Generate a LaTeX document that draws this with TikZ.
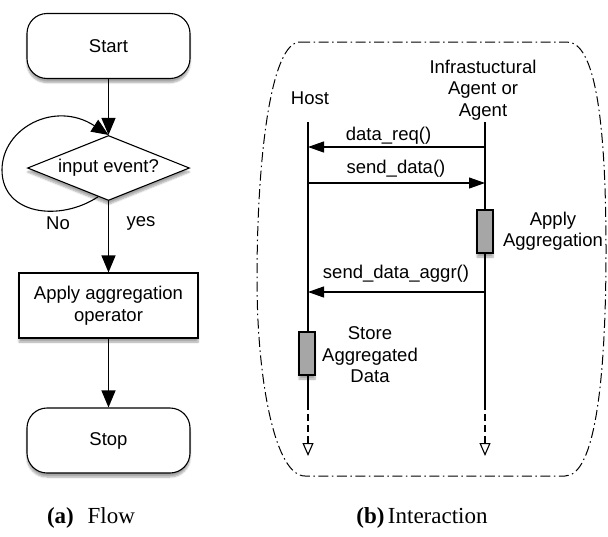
\documentclass[tikz,border=0pt]{standalone}
\usepackage{fontspec}
\setmainfont{Liberation Serif}
\newfontfamily\helv{Liberation Sans}
\usetikzlibrary{shapes.geometric,arrows.meta,shadows.blur}

\tikzset{
	every node/.style={font=\helv\fontsize{18.5}{21.5}\selectfont},
	soft/.style={blur shadow={shadow xshift=0pt,shadow yshift=-4pt,shadow blur steps=6,shadow opacity=35}},
	terminal/.style={draw,fill=white,rounded corners=20pt,minimum width=163pt,minimum height=65pt,soft},
	decision/.style={draw,fill=white,diamond,aspect=2.5,inner sep=0pt,minimum width=162pt,minimum height=65pt,soft},
	process/.style={draw,fill=white,align=center,minimum width=179pt,minimum height=65pt,soft},
	activation/.style={draw,fill=black!35,inner sep=0pt,minimum width=16pt,minimum height=43pt,soft},
	flow/.style={-{Triangle[length=17pt,width=14pt]}},
	msg/.style={-{Triangle[length=16pt,width=11pt]}},
	lifeend/.style={dash pattern=on 7pt off 4pt,-{Triangle[open,length=13pt,width=11pt]}},
	frame/.style={line width=1pt,dash pattern=on 10pt off 3.5pt on 1.5pt off 3.5pt},
	caption/.style={font=\fontsize{23}{26}\selectfont,anchor=base}
}

\begin{document}
\begin{tikzpicture}[x=1pt,y=-1pt,line width=1.1pt]

	\useasboundingbox (0,0) rectangle (608,536);

	\node[terminal] (start) at (108.5,46) {Start};
	\node[decision] (event) at (108.5,168) {input event?};
	\node[process] (aggr) at (108.5,305.5) {Apply aggregation\\operator};
	\node[terminal] (stop) at (108.5,440.5) {Stop};

	\draw[flow] (start) -- (event);
	\draw[flow] (event) -- (aggr);
	\draw[flow] (aggr) -- (stop);
	\draw[flow] (event.250) .. controls (60,222) and (2,215) .. (2,170)
		.. controls (2,128) and (55,100) .. (event.north);
	\node (no) at (58,223) {No};
	\node (yes) at (141,223) {yes};

	\draw[frame] (300,42) -- (567,42) .. controls (595,42) and (606,120) .. (606,250)
		.. controls (606,380) and (595,476) .. (565,476) -- (305,476)
		.. controls (275,476) and (257,380) .. (257,280)
		.. controls (257,150) and (272,42) .. (300,42);

	\node (host) at (310,98) {Host};
	\node[align=center] (agent) at (483,90) {Infrastuctural\\Agent or\\Agent};

	\coordinate (hostT) at (308,122);
	\coordinate (hostD) at (308,403);
	\coordinate (hostE) at (308,456);
	\coordinate (agentT) at (485,122);
	\coordinate (agentD) at (485,403);
	\coordinate (agentE) at (485,456);
	\draw (hostT) -- (hostD);
	\draw[lifeend] (hostD) -- (hostE);
	\draw (agentT) -- (agentD);
	\draw[lifeend] (agentD) -- (agentE);

	\node[activation] (aggrbar) at (485,231.5) {};
	\node[activation] (storebar) at (307,353.5) {};

	\coordinate (reqA) at (485,147);
	\coordinate (reqH) at (308,147);
	\coordinate (sendH) at (308,183);
	\coordinate (sendA) at (485,183);
	\coordinate (backA) at (485,292);
	\coordinate (backH) at (308,292);
	\draw[msg] (reqA) -- (reqH);
	\draw[msg] (sendH) -- (sendA);
	\draw[msg] (backA) -- (backH);

	\node (req) at (388.5,136) {data\_req()};
	\node (send) at (396,169) {send\_data()};
	\node (back) at (396,274) {send\_data\_aggr()};
	\node[align=center] (apply) at (553,231) {Apply\\Aggregation};
	\node[align=center] (store) at (370,355) {Store\\Aggregated\\Data};

	\node[caption] (capa) at (91,523) {\textbf{(a)}\hspace{0.6em}Flow};
	\node[caption] (capb) at (422,523) {\textbf{(b)}\hspace{0.15em}Interaction};

\end{tikzpicture}
\end{document}
